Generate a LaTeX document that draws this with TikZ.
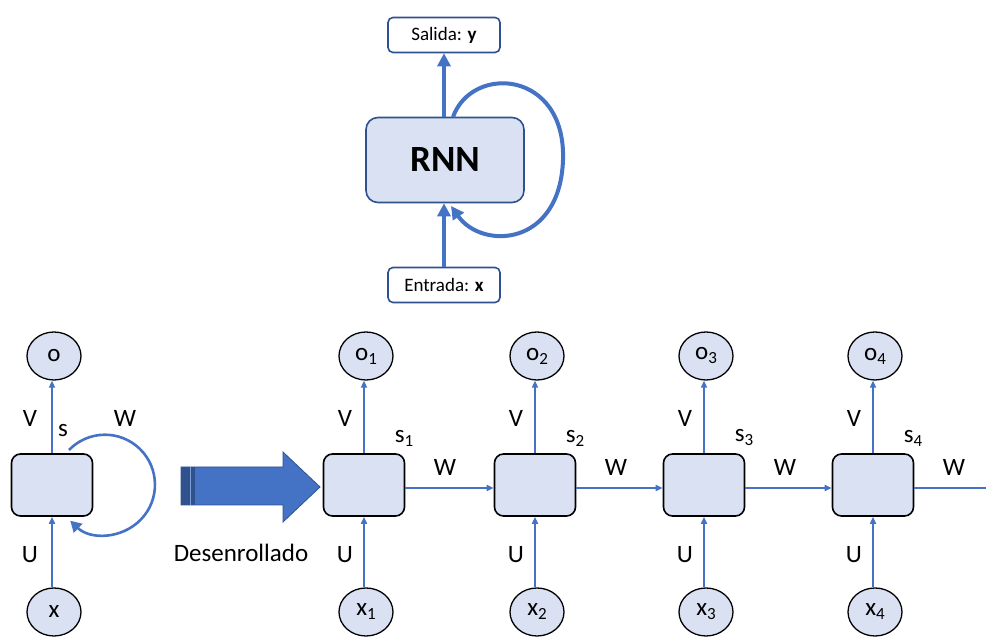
\documentclass[tikz,border=0pt]{standalone}
\usepackage{fontspec}
\setmainfont{Carlito}
\usetikzlibrary{arrows.meta,shapes.geometric}
\definecolor{lblue}{RGB}{68,114,196}
\definecolor{dblue}{RGB}{47,82,143}
\definecolor{cfill}{RGB}{217,225,242}
\newcommand{\subn}[1]{\raisebox{-4pt}{\fontsize{17}{18}\selectfont #1}}
\tikzset{
  topbox/.style={draw=dblue,line width=1.6pt,fill=white,rounded corners=5pt,minimum width=112pt,minimum height=35pt,inner sep=0pt,font=\fontsize{19}{21}\selectfont},
  rnnbox/.style={draw=dblue,line width=1.6pt,fill=cfill,rounded corners=12pt,minimum width=158pt,minimum height=85pt,inner sep=0pt,font=\fontsize{37}{40}\selectfont\bfseries},
  cell/.style={draw=black,line width=1.6pt,fill=cfill,rounded corners=9pt,minimum width=81pt,minimum height=62pt,inner sep=0pt},
  io/.style={draw=black,line width=1.3pt,fill=cfill,ellipse,minimum width=54pt,minimum height=48pt,inner sep=0pt,font=\fontsize{25}{28}\selectfont},
  lab/.style={font=\fontsize{25}{28}\selectfont,inner sep=0pt},
  thin/.style={draw=lblue,line width=1.6pt,-{Triangle[length=7pt,width=6pt]}},
  thick/.style={draw=lblue,line width=4pt,-{Triangle[length=13pt,width=13pt]}},
}
\begin{document}
\begin{tikzpicture}[x=1pt,y=1pt]
\useasboundingbox (0,0) rectangle (986,642);
% top diagram
\node[topbox] (sal) at (444,607) {Salida: \textbf{y}};
\node[rnnbox] (rnn) at (445,482) {RNN};
\node[topbox] (ent) at (444,357) {Entrada: \textbf{x}};
\draw[thick] (rnn.north -| sal.south) -- (sal.south);
\draw[thick] (ent.north) -- (rnn.south -| ent.north);
\coordinate (ls) at (453,525);
\coordinate (le) at (451,436);
\draw[thick] (ls) .. controls (472,578) and (566,572) .. (563,482) .. controls (560,395) and (482,392) .. (le);
% left folded cell
\node[cell] (c0) at (52,157) {};
\node[io] (o0) at (54,286) {o};
\node[io] (x0) at (54,30) {x};
\draw[thin] (c0.north) -- (c0.north |- o0.south);
\draw[thin] (c0.south |- x0.north) -- (c0.south);
\node[lab] at (30,224) {V};
\node[lab] at (30,87) {U};
\node[lab] at (63,211) {s};
\node[lab] at (125,224) {W};
\draw[draw=lblue,line width=2.6pt,-{Triangle[length=11pt,width=12pt]}] (69,192) arc[start angle=136,end angle=-134,radius=50];
% big arrow
\node[lab] (des) at (241,89) {Desenrollado};
\fill[lblue,draw=dblue,line width=0.8pt] (181,137) -- (283,137) -- (283,120) -- (320,155) -- (283,190) -- (283,175) -- (181,175) -- cycle;
\fill[dblue] (181,137) rectangle (195,175);
\draw[lblue!70,line width=1pt] (190,137) -- (190,175);
% unrolled cells
\foreach \i/\cx in {1/364,2/535,3/704,4/873}{
  \node[cell] (c\i) at (\cx,157) {};
  \node[io] (o\i) at (\cx+2,286) {o\subn{\i}};
  \node[io] (x\i) at (\cx+2,30) {x\subn{\i}};
  \draw[thin] (c\i.north) -- (c\i.north |- o\i.south);
  \draw[thin] (c\i.south |- x\i.north) -- (c\i.south);
  \node[lab] at (\cx-19,224) {V};
  \node[lab] at (\cx-19,87) {U};
  \node[lab] at (\cx+40,204) {s\subn{\i}};
  \node[lab] at (\cx+81,175) {W};
}
\foreach \a/\b in {1/2,2/3,3/4}{
  \draw[thin] ([yshift=-3pt]c\a.east) -- ([yshift=-3pt]c\b.west);
}
\coordinate (endw) at (986,154);
\draw[draw=lblue,line width=1.6pt] ([yshift=-3pt]c4.east) -- (endw);
\end{tikzpicture}
\end{document}
